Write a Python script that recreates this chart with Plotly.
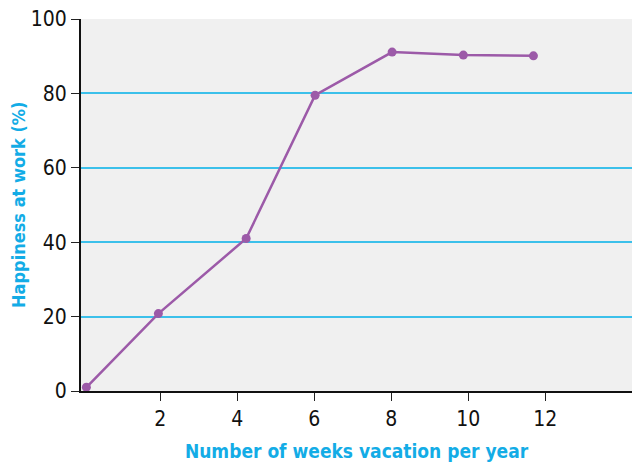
import plotly.graph_objects as go

weeks = [0.08, 1.95, 4.23, 6.02, 8.02, 9.87, 11.69]
happiness = [1.0, 20.8, 41.0, 79.5, 91.1, 90.3, 90.1]
x_ticks = [2, 4, 6, 8, 10, 12]
y_ticks = [0, 20, 40, 60, 80, 100]

FONT = "DejaVu Sans Condensed, Roboto, sans-serif"
CYAN = "#13ace6"
PURPLE = "#9c5aa8"

fig = go.Figure(go.Scatter(
    x=weeks, y=happiness, mode="lines+markers",
    line=dict(color=PURPLE, width=2.5),
    marker=dict(color=PURPLE, size=9),
    showlegend=False,
))

fig.update_layout(
    width=632, height=465,
    margin=dict(l=81, r=0, t=19, b=74),
    paper_bgcolor="white", plot_bgcolor="#f0f0f0",
    font=dict(family=FONT, size=21, color="#111111"),
    xaxis=dict(
        range=[-0.06, 14.25], tickvals=x_ticks, ticks="outside", ticklen=8,
        tickcolor="#222", showgrid=False, zeroline=False, automargin=False,
        showline=True, linecolor="#111", linewidth=2,
        title=dict(text="<b>Number of weeks vacation per year</b>",
                   font=dict(family=FONT, size=19, color=CYAN), standoff=14),
    ),
    yaxis=dict(
        range=[0, 100], tickvals=y_ticks, ticks="outside", ticklen=8,
        tickcolor="#222", showgrid=True, gridcolor="#3cc0ea", gridwidth=1.5,
        zeroline=False, showline=True, linecolor="#111", linewidth=2,
        automargin=False,
    ),
    annotations=[dict(
        text="<b>Happiness at work (%)</b>", textangle=-90,
        xref="paper", yref="paper", x=(18 - 81) / 551, y=0.5,
        xanchor="center", yanchor="middle", showarrow=False,
        font=dict(family=FONT, size=18, color=CYAN),
    )],
)

fig.write_html("out.html", config={"displayModeBar": False},
               post_script="document.body.style.margin='0';")
